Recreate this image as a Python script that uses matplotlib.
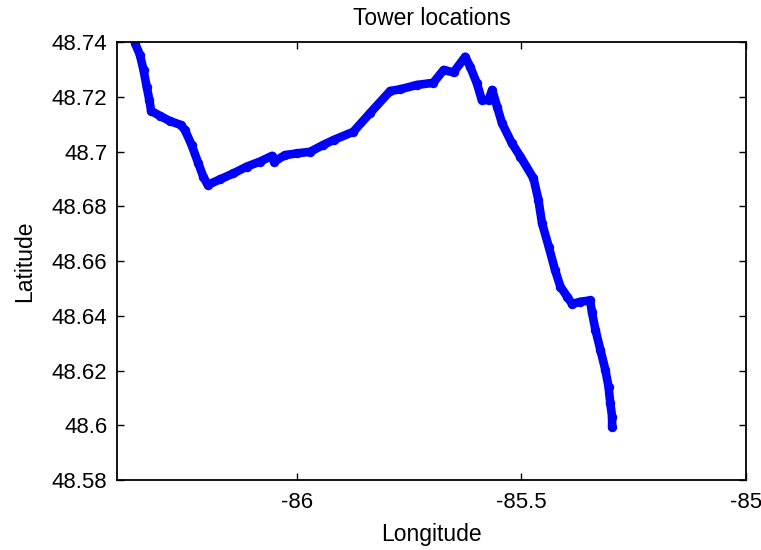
import matplotlib
matplotlib.use("Agg")
import matplotlib.pyplot as plt

plt.rcParams['font.family'] = ['Liberation Sans', 'DejaVu Sans']

lon = [-86.360, -86.349, -86.341, -86.334, -86.328, -86.324, -86.304, -86.282,
       -86.258, -86.249, -86.234, -86.219, -86.208, -86.198, -86.171, -86.141,
       -86.111, -86.082, -86.055, -86.050, -86.026, -86.000, -85.970, -85.941,
       -85.918, -85.874, -85.837, -85.792, -85.770, -85.733, -85.696, -85.673,
       -85.651, -85.625, -85.614, -85.599, -85.588, -85.573, -85.565, -85.554,
       -85.543, -85.521, -85.502, -85.473, -85.462, -85.454, -85.439, -85.425,
       -85.413, -85.398, -85.387, -85.369, -85.347, -85.343, -85.335, -85.324,
       -85.313, -85.306, -85.302, -85.298, -85.298]
lat = [48.7396, 48.7353, 48.7298, 48.7237, 48.7188, 48.7148, 48.7130, 48.7111,
       48.7097, 48.7079, 48.7024, 48.6957, 48.6908, 48.6878, 48.6898, 48.6920,
       48.6945, 48.6963, 48.6984, 48.6963, 48.6987, 48.6993, 48.6999, 48.7024,
       48.7042, 48.7072, 48.7140, 48.7221, 48.7227, 48.7243, 48.7251, 48.7298,
       48.7289, 48.7346, 48.7310, 48.7249, 48.7188, 48.7188, 48.7225, 48.7164,
       48.7103, 48.7030, 48.6981, 48.6902, 48.6823, 48.6738, 48.6652, 48.6567,
       48.6506, 48.6470, 48.6443, 48.6451, 48.6456, 48.6414, 48.6348, 48.6275,
       48.6202, 48.6141, 48.6080, 48.6031, 48.5994]

xticks = [-86, -85.5, -85]
xticklabels = ['-86', '-85.5', '-85']
yticks = [48.58, 48.60, 48.62, 48.64, 48.66, 48.68, 48.70, 48.72, 48.74]
yticklabels = ['48.58', '48.6', '48.62', '48.64', '48.66', '48.68', '48.7', '48.72', '48.74']

fig = plt.figure(figsize=(7.61, 5.5), dpi=100)
ax = fig.add_axes([117/761, 70/550, 629/761, 438/550])
ax.plot(lon, lat, color='#0000ff', linewidth=6.2, marker='o', markersize=6.8,
        markeredgewidth=0, solid_joinstyle='round', solid_capstyle='round')
ax.set_xlim(-86.4, -85)
ax.set_ylim(48.58, 48.74)
ax.set_xticks(xticks)
ax.set_xticklabels(xticklabels)
ax.set_yticks(yticks)
ax.set_yticklabels(yticklabels)
ax.tick_params(direction='in', length=5, width=1.0, top=True, right=True,
               labelsize=16)
ax.tick_params(axis='x', pad=9)
ax.tick_params(axis='y', pad=7)
for s in ax.spines.values():
    s.set_linewidth(1.3)
ax.set_title('Tower locations', fontsize=16.5, pad=12)
ax.set_xlabel('Longitude', fontsize=16.5, labelpad=7)
ax.set_ylabel('Latitude', fontsize=16.5, labelpad=11)
fig.savefig('out.png', dpi=100)
